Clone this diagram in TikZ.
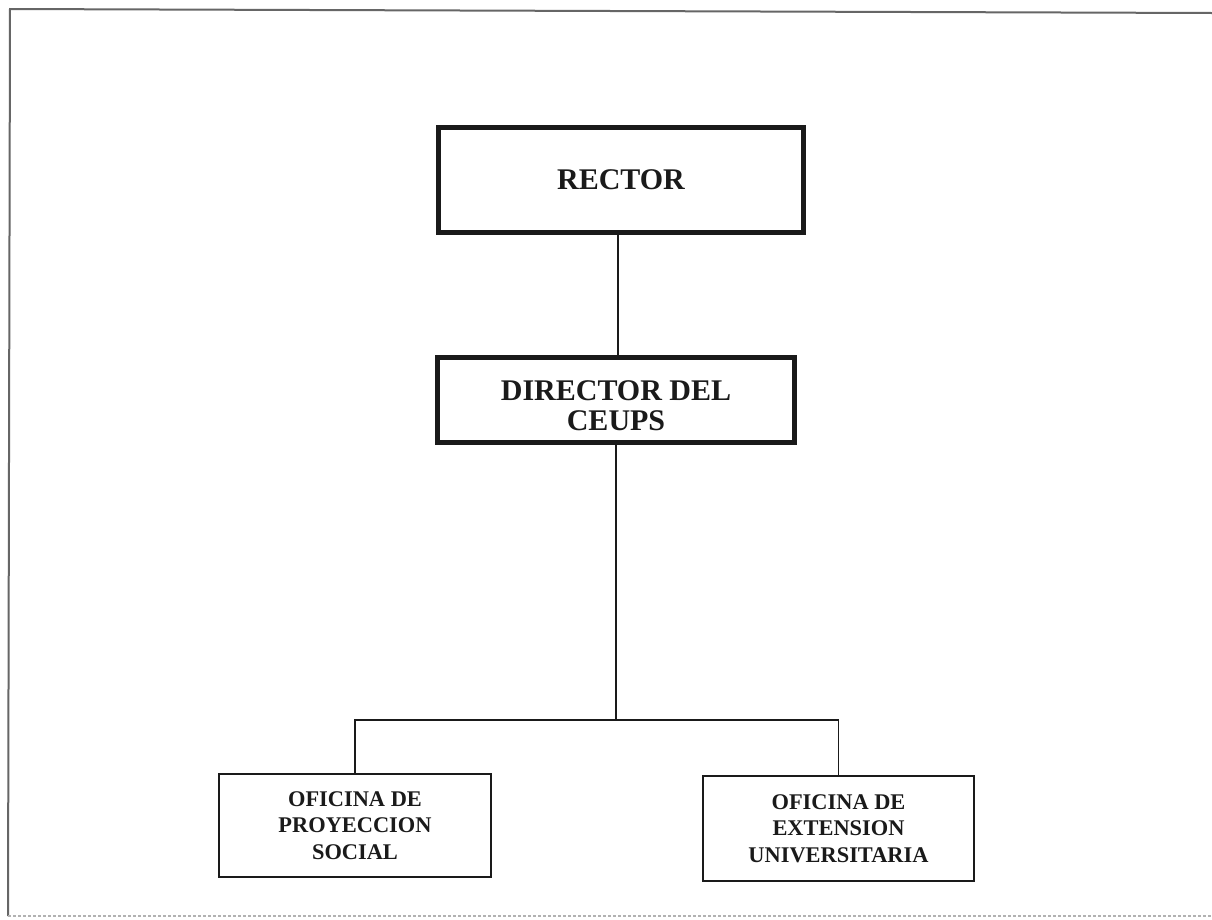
\documentclass[tikz,border=0pt]{standalone}
\usepackage{fontspec}
\setmainfont{Liberation Serif}
\definecolor{ink}{HTML}{1A1A1A}
\definecolor{framegray}{HTML}{666666}
\begin{document}
\begin{tikzpicture}[x=1pt,y=-1pt,
  bigbox/.style={draw=ink, line width=5.5pt, rectangle, align=center, text=ink,
    font=\fontsize{30}{30}\selectfont\bfseries, inner sep=0pt},
  bigtext/.style={align=center, text=ink, font=\fontsize{30}{30}\selectfont\bfseries, inner sep=0pt},
  smallbox/.style={draw=ink, line width=2pt, rectangle, align=center, text=ink,
    font=\fontsize{22.4}{26.7}\selectfont\bfseries, inner sep=0pt},
  conn/.style={draw=ink, line width=1.6pt},
  framel/.style={draw=framegray, line width=2pt}
]
\useasboundingbox (0,0) rectangle (1212,919);
\fill[white] (0,0) rectangle (1212,919);
% page frame
\coordinate (ftl) at (10,9);
\coordinate (ftr) at (1212,13);
\coordinate (fbl) at (8,916);
\coordinate (fbr) at (1212,916);
\draw[framel] (ftr) -- (ftl) -- (fbl);
\draw[draw=framegray!50, line width=1.5pt, dash pattern=on 3pt off 2pt] (fbl) -- (fbr);
% nodes
\node[bigbox, minimum width=365, minimum height=105] (rec) at (621,180) {RECTOR};
\node[bigbox, minimum width=357, minimum height=85,
  label={[bigtext, yshift=-6pt]center:DIRECTOR DEL\\CEUPS}] (dir) at (616,400) {};
\node[smallbox, minimum width=272, minimum height=103] (ops) at (355,825.5) {OFICINA DE\\PROYECCION\\SOCIAL};
\node[smallbox, minimum width=271, minimum height=105] (oeu) at (838.5,828.5) {OFICINA DE\\EXTENSION\\UNIVERSITARIA};
% connectors
\coordinate (bus) at (616,720);
\draw[conn] (dir.north) ++(2,0) coordinate (dtop) -- (dtop |- rec.south);
\draw[conn] (dir.south) -- (bus);
\draw[conn] (bus) -| (ops.north);
\draw[conn] (bus) -| (oeu.north);
\end{tikzpicture}
\end{document}
